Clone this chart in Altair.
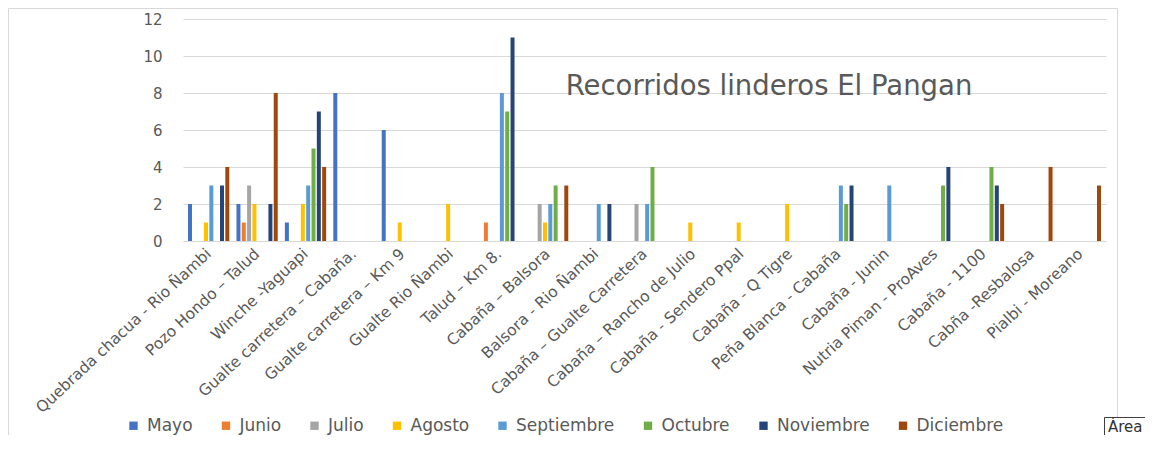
import altair as alt
import pandas as pd

categories = [
    "Quebrada chacua - Rio Ñambi", "Pozo Hondo – Talud", "Winche -Yaguapi",
    "Gualte carretera – Cabaña.", "Gualte carretera – Km 9", "Gualte Rio Ñambi",
    "Talud – Km 8.", "Cabaña – Balsora", "Balsora - Rio Ñambi",
    "Cabaña – Gualte Carretera", "Cabaña – Rancho de Julio", "Cabaña - Sendero Ppal",
    "Cabaña - Q Tigre", "Peña Blanca - Cabaña", "Cabaña - Junin",
    "Nutria Piman - ProAves", "Cabaña - 1100", "Cabña -Resbalosa", "Pialbi - Moreano",
]
months = ["Mayo", "Junio", "Julio", "Agosto", "Septiembre", "Octubre", "Noviembre", "Diciembre"]
colors = ["#4472C4", "#ED7D31", "#A5A5A5", "#FFC000", "#5B9BD5", "#70AD47", "#264478", "#9E480E"]

mayo       = [2, 2, 1, 8, 6, 0, 0, 0, 0, 0, 0, 0, 0, 0, 0, 0, 0, 0, 0]
junio      = [0, 1, 0, 0, 0, 0, 1, 0, 0, 0, 0, 0, 0, 0, 0, 0, 0, 0, 0]
julio      = [0, 3, 0, 0, 0, 0, 0, 2, 0, 2, 0, 0, 0, 0, 0, 0, 0, 0, 0]
agosto     = [1, 2, 2, 0, 1, 2, 0, 1, 0, 0, 1, 1, 2, 0, 0, 0, 0, 0, 0]
septiembre = [3, 0, 3, 0, 0, 0, 8, 2, 2, 2, 0, 0, 0, 3, 3, 0, 0, 0, 0]
octubre    = [0, 0, 5, 0, 0, 0, 7, 3, 0, 4, 0, 0, 0, 2, 0, 3, 4, 0, 0]
noviembre  = [3, 2, 7, 0, 0, 0, 11, 0, 2, 0, 0, 0, 0, 3, 0, 4, 3, 0, 0]
diciembre  = [4, 8, 4, 0, 0, 0, 0, 3, 0, 0, 0, 0, 0, 0, 0, 0, 2, 4, 3]

title_text = "Recorridos linderos El Pangan"
tooltip_text = "Área"

series = [mayo, junio, julio, agosto, septiembre, octubre, noviembre, diciembre]
rows = []
for m, vals in zip(months, series):
    for c, v in zip(categories, vals):
        rows.append({"Tramo": c, "Mes": m, "Valor": v})
df = pd.DataFrame(rows)

GRAY = "#595959"
W, H = 923, 222
BOTTOM = 416  # plot-relative y of svg bottom edge

bars = alt.Chart(df).mark_bar(size=4).encode(
    x=alt.X("Tramo:N", sort=categories, title=None,
            scale=alt.Scale(paddingInner=0.12, paddingOuter=0.09),
            axis=alt.Axis(labelAngle=-43, labelAlign="right", labelBaseline="middle",
                          labelPadding=10, ticks=False, domainColor="#d9d9d9",
                          labelColor=GRAY, labelFont="DejaVu Sans", labelFontSize=15.5,
                          labelLimit=400)),
    xOffset=alt.XOffset("Mes:N", sort=months,
                        scale=alt.Scale(domain=months, paddingInner=0, paddingOuter=0)),
    y=alt.Y("Valor:Q", title=None,
            scale=alt.Scale(domain=[0, 12]),
            axis=alt.Axis(values=[0, 2, 4, 6, 8, 10, 12], domain=False, ticks=False,
                          gridColor="#d9d9d9", labelColor=GRAY, labelFont="DejaVu Sans",
                          labelFontSize=15, labelPadding=21)),
    color=alt.Color("Mes:N", sort=months,
                    scale=alt.Scale(domain=months, range=colors),
                    legend=alt.Legend(orient="none", direction="horizontal", title=None,
                                      legendX=-58, legendY=398, symbolType="square",
                                      symbolSize=70, symbolStrokeWidth=0, labelFont="DejaVu Sans",
                                      labelFontSize=17, labelColor=GRAY, columnPadding=24.5,
                                      labelOffset=5)),
)

title_df = pd.DataFrame({"t": [title_text]})
title = alt.Chart(title_df).mark_text(font="DejaVu Sans", fontSize=27.5, color=GRAY,
                                      align="center", baseline="alphabetic").encode(
    text="t:N", x=alt.value(586), y=alt.value(76))

# chart-area border (top, left, right edges)
b_top = alt.Chart(title_df).mark_rule(color="#d9d9d9", strokeWidth=1).encode(
    x=alt.value(-174.5), x2=alt.value(934.5), y=alt.value(-10.5))
b_left = alt.Chart(title_df).mark_rule(color="#d9d9d9", strokeWidth=1).encode(
    x=alt.value(-174.5), y=alt.value(-10.5), y2=alt.value(BOTTOM))
b_right = alt.Chart(title_df).mark_rule(color="#d9d9d9", strokeWidth=1).encode(
    x=alt.value(934.5), y=alt.value(-10.5), y2=alt.value(BOTTOM))

TIP_TOP = 398.5
tip_df = pd.DataFrame({"t": [tooltip_text]})
tip_fill = alt.Chart(tip_df).mark_rect(fill="white", strokeWidth=0).encode(
    x=alt.value(921.5), x2=alt.value(962), y=alt.value(TIP_TOP), y2=alt.value(BOTTOM))
tip_top = alt.Chart(tip_df).mark_rule(color="#404040", strokeWidth=1).encode(
    x=alt.value(921.5), x2=alt.value(962), y=alt.value(TIP_TOP))
tip_left = alt.Chart(tip_df).mark_rule(color="#404040", strokeWidth=1).encode(
    x=alt.value(921.5), y=alt.value(TIP_TOP), y2=alt.value(BOTTOM))
tip_text = alt.Chart(tip_df).mark_text(font="DejaVu Sans", fontSize=15, color="#333333",
                                       align="left", baseline="alphabetic").encode(
    text="t:N", x=alt.value(925), y=alt.value(BOTTOM - 3))

chart = alt.layer(b_top, b_left, b_right, bars, title, tip_fill, tip_top, tip_left, tip_text).properties(
    width=W, height=H,
    padding={"left": 175, "top": 11, "right": 47, "bottom": BOTTOM - H},
    autosize=alt.AutoSizeParams(type="none"),
).configure_view(stroke=None)

chart.save("out.html", embed_options={"renderer": "svg", "actions": False})
